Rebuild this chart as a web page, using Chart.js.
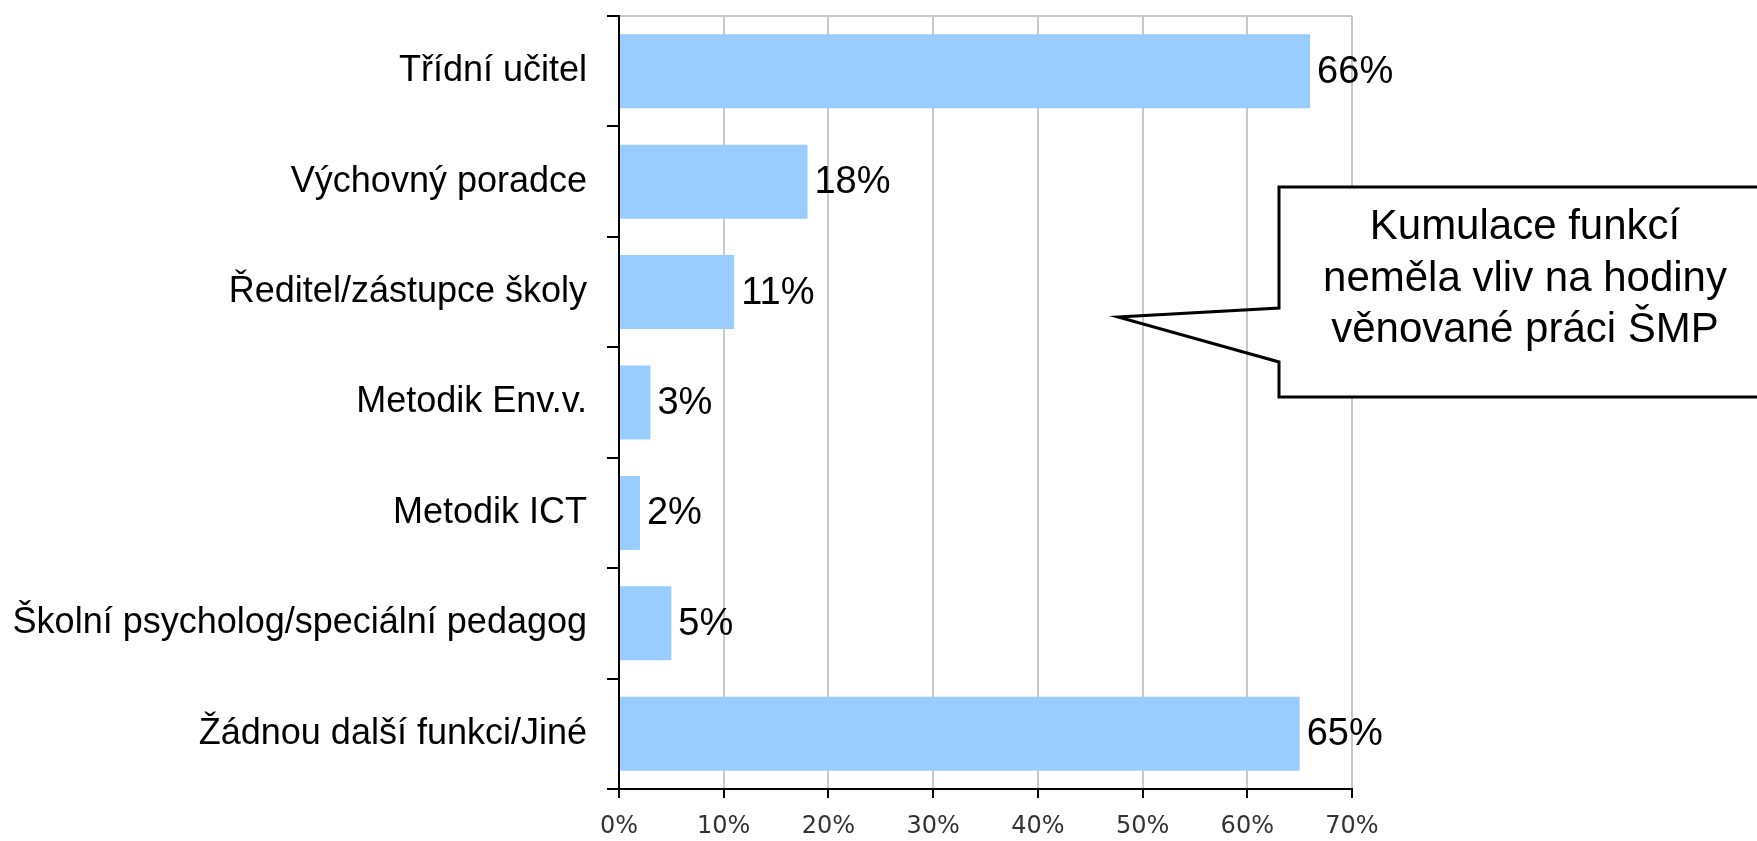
<!DOCTYPE html>
<html>
<head>
<meta charset="utf-8">
<script src="https://cdn.jsdelivr.net/npm/chart.js@4"></script>
<style>
  body { margin: 0; background: #fff; }
  canvas { display: block; }
</style>
</head>
<body>
<canvas id="chart" width="1757" height="841"></canvas>
<script>
const categories = [
    "Třídní učitel",
    "Výchovný poradce",
    "Ředitel/zástupce školy",
    "Metodik Env.v.",
    "Metodik ICT",
    "Školní psycholog/speciální pedagog",
    "Žádnou další funkci/Jiné"
];
const values = [66, 18, 11, 3, 2, 5, 65];
const x_ticks = [0, 10, 20, 30, 40, 50, 60, 70];
const callout_lines = ["Kumulace funkcí", "neměla vliv na hodiny", "věnované práci ŠMP"];

const sans = "'Liberation Sans', Arial, sans-serif";

// value labels at the end of each bar
const barLabels = {
    id: "barLabels",
    afterDatasetsDraw(chart) {
        const ctx = chart.ctx;
        const meta = chart.getDatasetMeta(0);
        ctx.save();
        ctx.font = "38px " + sans;
        ctx.fillStyle = "#000";
        ctx.textAlign = "left";
        ctx.textBaseline = "middle";
        meta.data.forEach((bar, i) => {
            ctx.fillText(values[i] + "%", bar.x + 7, bar.y + 1);
        });
        ctx.restore();
    }
};

// speech bubble on the right
const callout = {
    id: "callout",
    afterDraw(chart) {
        const ctx = chart.ctx;
        const left = 1279, top = 187, bottom = 397, right = 1790;
        ctx.save();
        ctx.fillStyle = "#fff";
        ctx.fillRect(left, top, right - left, bottom - top);
        ctx.beginPath();
        ctx.moveTo(left, top);
        ctx.lineTo(right, top);
        ctx.lineTo(right, bottom);
        ctx.lineTo(left, bottom);
        ctx.lineTo(left, 362);
        ctx.lineTo(1118, 317);
        ctx.lineTo(left, 308);
        ctx.closePath();
        ctx.lineWidth = 3;
        ctx.strokeStyle = "#000";
        ctx.lineJoin = "miter";
        ctx.stroke();

        ctx.font = "42px " + sans;
        ctx.fillStyle = "#000";
        ctx.textAlign = "center";
        ctx.textBaseline = "alphabetic";
        callout_lines.forEach((line, i) => {
            ctx.fillText(line, 1525, 239 + i * 51.5);
        });
        ctx.restore();
    }
};

new Chart("chart", {
    type: "bar",
    data: {
        labels: categories,
        datasets: [{
            data: values,
            backgroundColor: "#99ccff",
            borderWidth: 0,
            barPercentage: 0.67,
            categoryPercentage: 1
        }]
    },
    options: {
        indexAxis: "y",
        responsive: false,
        animation: false,
        devicePixelRatio: 1,
        layout: { padding: { top: 16, right: 405, left: 0, bottom: 0 } },
        plugins: {
            legend: { display: false },
            tooltip: { enabled: false }
        },
        scales: {
            x: {
                min: 0,
                max: 70,
                afterBuildTicks: (scale) => { scale.ticks = x_ticks.map(v => ({ value: v })); },
                afterFit: (scale) => { scale.height = 52; },
                ticks: {
                    callback: (v) => v + "%",
                    font: { family: "'DejaVu Sans'", size: 24 },
                    color: "#333",
                    padding: 14,
                    maxRotation: 0
                },
                grid: {
                    color: (c) => c.index === 0 ? "rgba(0,0,0,0)" : "#c8c8c8",
                    lineWidth: 2,
                    tickColor: "#000",
                    tickLength: 9
                },
                border: { color: "#000", width: 2 }
            },
            y: {
                afterFit: (scale) => {
                    scale.width = 619;
                    scale.paddingTop = 0;
                    scale.paddingBottom = 0;
                },
                ticks: {
                    font: { family: sans, size: 36 },
                    color: "#000",
                    padding: 20
                },
                grid: {
                    offset: true,
                    color: (c) => c.index === 0 ? "#c8c8c8" : "rgba(0,0,0,0)",
                    lineWidth: 2,
                    tickColor: "#000",
                    tickLength: 12
                },
                border: { color: "#000", width: 2 }
            }
        }
    },
    plugins: [barLabels, callout]
});
</script>
</body>
</html>
